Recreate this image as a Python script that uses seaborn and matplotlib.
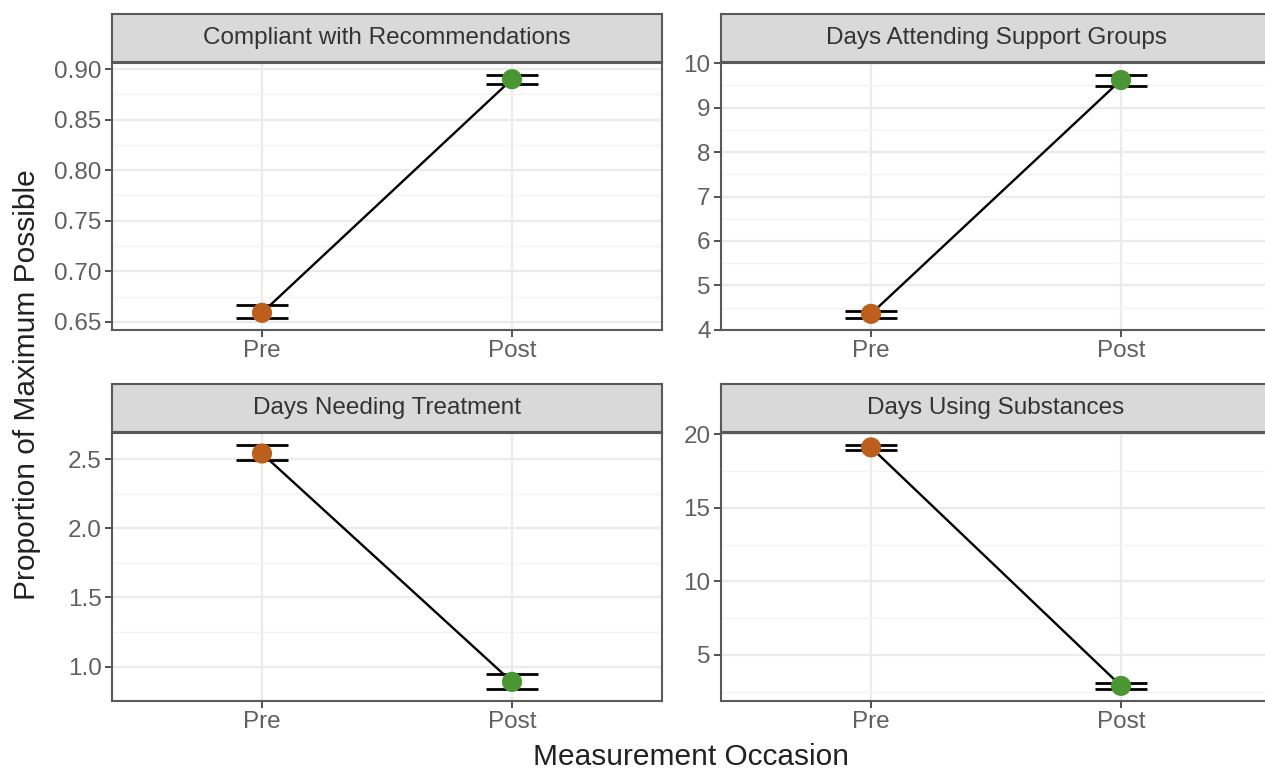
import numpy as np
import pandas as pd
import matplotlib
matplotlib.use("Agg")
import matplotlib.pyplot as plt
import seaborn as sns
from matplotlib.ticker import MultipleLocator, FormatStrFormatter

# ---------------- data ----------------
panels = ["Compliant with Recommendations", "Days Attending Support Groups",
          "Days Needing Treatment", "Days Using Substances"]
occasions = ["Pre", "Post"]
pre_mean = [0.659, 4.36, 2.54, 19.1]
pre_lo = [0.654, 4.27, 2.49, 18.95]
pre_hi = [0.667, 4.42, 2.60, 19.25]
post_mean = [0.890, 9.62, 0.89, 2.9]
post_lo = [0.885, 9.49, 0.84, 2.7]
post_hi = [0.894, 9.73, 0.95, 3.1]
tick_steps = [0.05, 1, 0.5, 5]
tick_formats = ["%.2f", "%d", "%.1f", "%d"]
x_title = "Measurement Occasion"
y_title = "Proportion of Maximum Possible"

colors = {"Pre": "#BD5F1C", "Post": "#4A9632"}

sns.set_theme(style="white")
plt.rcParams['font.family'] = ['Liberation Sans', 'DejaVu Sans']

W, H = 1265, 769
fig = plt.figure(figsize=(W / 100, H / 100), dpi=100)
fig.patch.set_facecolor("white")

def frac_box(x0, y0, x1, y1):
    return [x0 / W, 1 - y1 / H, (x1 - x0) / W, (y1 - y0) / H]

panel_boxes = [(112, 63, 662, 330), (721, 63, 1271, 330),
               (112, 433, 662, 701), (721, 433, 1271, 701)]
strip_boxes = [(112, 14, 662, 62), (721, 14, 1271, 62),
               (112, 384, 662, 432), (721, 384, 1271, 432)]

border = "#5A5A5A"
for i, name in enumerate(panels):
    df = pd.DataFrame({
        "Occasion": occasions,
        "mean": [pre_mean[i], post_mean[i]],
        "lo": [pre_lo[i], post_lo[i]],
        "hi": [pre_hi[i], post_hi[i]],
    })
    ax = fig.add_axes(frac_box(*panel_boxes[i]))
    ax.set_facecolor("white")
    ax.set_axisbelow(True)
    sns.lineplot(data=df, x="Occasion", y="mean", color="black", lw=1.7,
                 ax=ax, zorder=2, sort=False)
    yerr = np.vstack([df["mean"] - df["lo"], df["hi"] - df["mean"]])
    ax.errorbar(df["Occasion"], df["mean"], yerr=yerr, fmt="none",
                ecolor="black", elinewidth=1.7, capsize=19, capthick=2.0, zorder=3)
    sns.scatterplot(data=df, x="Occasion", y="mean", hue="Occasion",
                    palette=colors, s=210, linewidth=0, legend=False,
                    ax=ax, zorder=4)
    lo, hi = min(df["lo"]), max(df["hi"])
    pad = (hi - lo) * 0.05
    ax.set_ylim(lo - pad, hi + pad)
    ax.set_xlim(-0.6, 1.6)
    ax.yaxis.set_major_locator(MultipleLocator(tick_steps[i]))
    ax.yaxis.set_minor_locator(MultipleLocator(tick_steps[i] / 2))
    ax.yaxis.set_major_formatter(FormatStrFormatter(tick_formats[i]))
    ax.grid(True, which="major", color="#EBEBEB", lw=1.6)
    ax.grid(True, which="minor", axis="y", color="#F3F3F3", lw=1.0)
    ax.tick_params(axis="both", which="major", direction="out", length=5,
                   width=1.2, color="#333333", labelcolor="#606060",
                   labelsize=17.5, pad=2.5, left=True, bottom=True)
    ax.tick_params(axis="y", which="minor", length=0)
    ax.set_xlabel("")
    ax.set_ylabel("")
    for sp in ax.spines.values():
        sp.set_color(border)
        sp.set_linewidth(1.5)

    sax = fig.add_axes(frac_box(*strip_boxes[i]))
    sax.set_facecolor("#D9D9D9")
    sax.set_xticks([])
    sax.set_yticks([])
    for sp in sax.spines.values():
        sp.set_color(border)
        sp.set_linewidth(1.5)
    sax.text(0.5, 0.5, name, ha="center", va="center", fontsize=17.5,
             color="#333333", transform=sax.transAxes)

fig.text(691 / W, 1 - 757 / H, x_title, ha="center", va="center",
         fontsize=21.5, color="#222222")
fig.text(27 / W, 1 - 385 / H, y_title, ha="center", va="center",
         rotation=90, fontsize=21.5, color="#222222")

fig.savefig("out.png", dpi=100, facecolor="white")
